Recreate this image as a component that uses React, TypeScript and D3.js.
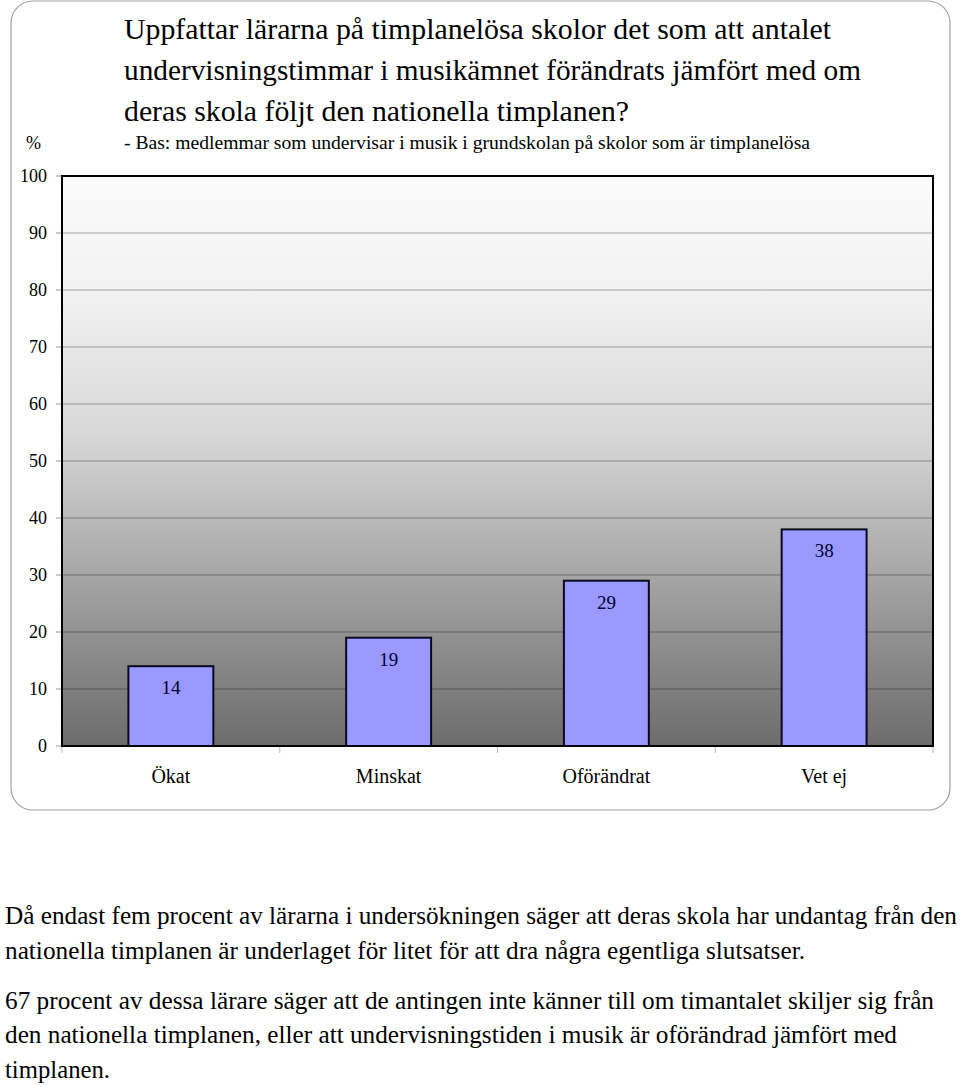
import React from "react";
import * as d3 from "d3";

// Data
const categories = ["Ökat", "Minskat", "Oförändrat", "Vet ej"];
const values = [14, 19, 29, 38];
const yTicks = [0, 10, 20, 30, 40, 50, 60, 70, 80, 90, 100];

const titleLines = [
  "Uppfattar lärarna på timplanelösa skolor det som att antalet",
  "undervisningstimmar i musikämnet förändrats jämfört med om",
  "deras skola följt den nationella timplanen?",
];
const subtitle =
  "- Bas: medlemmar som undervisar i musik i grundskolan på skolor som är timplanelösa";
const yUnit = "%";

const paragraphs = [
  [
    "Då endast fem procent av lärarna i undersökningen säger att deras skola har undantag från den",
    "nationella timplanen är underlaget för litet för att dra några egentliga slutsatser.",
  ],
  [
    "67 procent av dessa lärare säger att de antingen inte känner till om timantalet skiljer sig från",
    "den nationella timplanen, eller att undervisningstiden i musik är oförändrad jämfört med",
    "timplanen.",
  ],
];

// measured line widths (layout only)
const titleWidths = [707, 737, 505];
const paraWidths = [
  [952, 800],
  [929, 892, 105],
];

const FONT = "'Liberation Serif', 'Times New Roman', serif";

export default function App() {
  const width = 960;
  const height = 1086;
  const plot = { left: 62, right: 933, top: 176, bottom: 746 };

  const x = d3
    .scaleBand<string>()
    .domain(categories)
    .range([plot.left, plot.right])
    .paddingInner(0)
    .paddingOuter(0);

  const y = d3.scaleLinear().domain([0, 100]).range([plot.bottom, plot.top]);

  const barW = x.bandwidth() * 0.39;
  const boundaries = [...categories.map((c) => x(c)!), plot.right];

  return (
    <svg
      width={width}
      height={height}
      style={{ position: "absolute", left: 0, top: 0, background: "#fff", fontFamily: FONT }}
    >
      <defs>
        <linearGradient id="bg" x1="0" y1="0" x2="0" y2="1">
          <stop offset="0" stopColor="#fbfbfb" />
          <stop offset="0.2" stopColor="#f2f2f2" />
          <stop offset="0.45" stopColor="#d8d8d8" />
          <stop offset="0.75" stopColor="#9c9c9c" />
          <stop offset="1" stopColor="#6c6c6c" />
        </linearGradient>
      </defs>

      {/* chart frame */}
      <rect
        x={11}
        y={1}
        width={939}
        height={809}
        rx={22}
        ry={22}
        fill="#fff"
        stroke="#a0a0a0"
        strokeWidth={1.2}
      />

      {/* title */}
      <g style={{ fontSize: 30 }} fill="#000">
        {titleLines.map((t, i) => (
          <text
            key={i}
            x={124}
            y={39 + i * 41}
            textLength={titleWidths[i]}
            lengthAdjust="spacingAndGlyphs"
          >
            {t}
          </text>
        ))}
      </g>
      <text
        x={124}
        y={149}
        style={{ fontSize: 18 }}
        textLength={686}
        lengthAdjust="spacingAndGlyphs"
      >
        {subtitle}
      </text>
      <text x={26} y={149} style={{ fontSize: 18 }}>
        {yUnit}
      </text>

      {/* plot background */}
      <rect
        x={plot.left}
        y={plot.top}
        width={plot.right - plot.left}
        height={plot.bottom - plot.top}
        fill="url(#bg)"
      />

      {/* gridlines */}
      {yTicks
        .filter((t) => t > 0 && t < 100)
        .map((t) => (
          <line
            key={t}
            x1={plot.left}
            x2={plot.right}
            y1={y(t)}
            y2={y(t)}
            stroke="#000"
            strokeOpacity={0.22}
            strokeWidth={1.3}
          />
        ))}

      {/* y ticks and labels */}
      {yTicks.map((t) => (
        <g key={t}>
          <line x1={56} x2={plot.left} y1={y(t)} y2={y(t)} stroke="#999" />
          <text
            x={47}
            y={y(t)}
            dy="0.34em"
            textAnchor="end"
            style={{ fontSize: 18 }}
            fill="#000"
          >
            {t}
          </text>
        </g>
      ))}

      {/* x ticks */}
      {boundaries.map((b, i) => (
        <line key={i} x1={b} x2={b} y1={plot.bottom} y2={plot.bottom + 7} stroke="#bbb" />
      ))}

      {/* bars */}
      {categories.map((c, i) => {
        const cx = x(c)! + x.bandwidth() / 2;
        return (
          <g key={c}>
            <rect
              x={cx - barW / 2}
              y={y(values[i])}
              width={barW}
              height={plot.bottom - y(values[i])}
              fill="#9999ff"
              stroke="#0a0a1e"
              strokeWidth={2}
            />
            <text
              x={cx}
              y={y(values[i]) + 28}
              textAnchor="middle"
              style={{ fontSize: 19 }}
              fill="#000033"
            >
              {values[i]}
            </text>
            <text x={cx} y={783} textAnchor="middle" style={{ fontSize: 20 }} fill="#000">
              {c}
            </text>
          </g>
        );
      })}

      {/* plot border */}
      <rect
        x={plot.left}
        y={plot.top}
        width={plot.right - plot.left}
        height={plot.bottom - plot.top}
        fill="none"
        stroke="#000"
        strokeWidth={2}
      />

      {/* body text */}
      <g style={{ fontSize: 24.5 }} fill="#000">
        {paragraphs.map((p, pi) =>
          p.map((line, li) => (
            <text
              key={`${pi}-${li}`}
              x={5}
              y={924 + pi * 84.5 + li * 34.5}
              textLength={paraWidths[pi][li]}
              lengthAdjust="spacingAndGlyphs"
            >
              {line}
            </text>
          ))
        )}
      </g>
    </svg>
  );
}
